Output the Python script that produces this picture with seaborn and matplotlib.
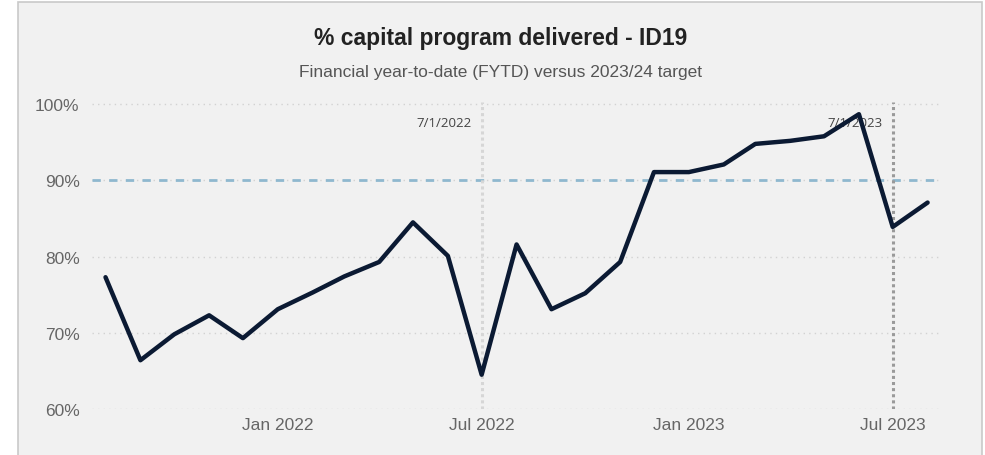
import matplotlib
matplotlib.use("Agg")
import matplotlib.pyplot as plt
import matplotlib.dates as mdates
from matplotlib.patches import Rectangle
from matplotlib.ticker import FuncFormatter
import numpy as np
import pandas as pd
import seaborn as sns

# ==========================================
# data (monthly)
# ==========================================
months = pd.date_range("2021-08-01", "2023-08-01", freq="MS")
delivered = [77.3, 66.4, 69.8, 72.3, 69.3, 73.1, 75.3, 77.4, 79.3, 84.5, 80.1, 64.5,
             81.6, 73.1, 75.2, 79.3, 91.1, 91.1, 92.1, 94.8, 95.2, 95.8, 98.7, 83.9, 87.1]
target = 90
marker_dates = ["2022-07-01", "2023-07-01"]
marker_labels = ["7/1/2022", "7/1/2023"]
y_ticks = [60, 70, 80, 90, 100]
x_ticks = ["2022-01-01", "2022-07-01", "2023-01-01", "2023-07-01"]

C_BG = "#f1f1f1"
C_LINE = "#0b1a33"
C_TICK = "#666666"

sns.set_theme(style="white")
plt.rcParams["font.family"] = ["Liberation Sans", "DejaVu Sans"]

df = pd.DataFrame({"month": months, "delivered": delivered})

fig = plt.figure(figsize=(9.85, 4.56), dpi=100)
fig.patch.set_facecolor("white")
fig.patches.append(Rectangle((18 / 985, -0.01), (982 - 18) / 985, 1 - 3 / 456 + 0.01,
                             transform=fig.transFigure, facecolor=C_BG,
                             edgecolor="#c9c9c9", linewidth=1.2, zorder=-1))

ax = fig.add_axes([92 / 985, 1 - 410 / 456, (940 - 92) / 985, (410 - 103) / 456])
ax.set_facecolor(C_BG)

# dotted gridlines
for v in y_ticks:
    ax.axhline(v, color="#d2d2d2", linestyle=(0, (1, 3)), linewidth=1, zorder=0)

# target line
ax.axhline(target, color="#8fb8cf", linestyle=(0, (3, 3)), linewidth=2, zorder=1)

# vertical date markers
for d, lab, col in zip(marker_dates, marker_labels, ["#d6d6d6", "#9a9a9a"]):
    dt = pd.Timestamp(d)
    ax.axvline(dt, color=col, linestyle=(0, (1, 1)), linewidth=2.2, zorder=1)
    ax.text(dt - pd.Timedelta(days=9), 97.6, lab, ha="right", va="center",
            fontsize=9.5, color="#444444", family=["Open Sans", "DejaVu Sans"], zorder=3)

sns.lineplot(data=df, x="month", y="delivered", ax=ax, color=C_LINE,
             linewidth=3.2, zorder=4)
ax.lines[-1].set_solid_joinstyle("round")
ax.lines[-1].set_solid_capstyle("round")

ax.set_xlim(pd.Timestamp("2021-07-20"), pd.Timestamp("2023-08-12"))
ax.set_ylim(60, 100.3)
ax.set_yticks(y_ticks)
ax.yaxis.set_major_formatter(FuncFormatter(lambda v, p: f"{v:.0f}%"))
ax.set_xticks([pd.Timestamp(t) for t in x_ticks])
ax.xaxis.set_major_formatter(mdates.DateFormatter("%b %Y"))
ax.tick_params(axis="both", length=0, labelsize=12.5, labelcolor=C_TICK)
ax.tick_params(axis="y", pad=9)
ax.tick_params(axis="x", pad=6)
ax.set_xlabel("")
ax.set_ylabel("")
sns.despine(ax=ax, left=True, bottom=True)

fig.text(0.508, 1 - 38 / 456, "% capital program delivered - ID19", ha="center",
         va="center", fontsize=16.5, fontweight="bold", color="#222222")
fig.text(0.508, 1 - 73 / 456, "Financial year-to-date (FYTD) versus 2023/24 target",
         ha="center", va="center", fontsize=12.5, color="#555555")

fig.savefig("out.png", dpi=100, facecolor=fig.get_facecolor())
